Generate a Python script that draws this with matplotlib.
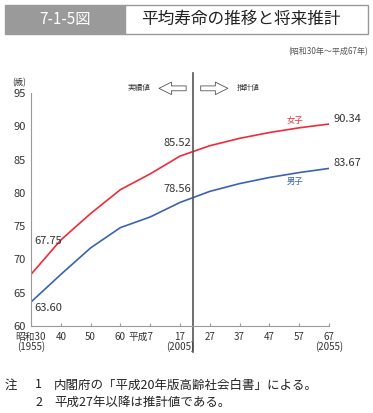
import matplotlib.pyplot as plt
import matplotlib.patches as patches
from matplotlib.transforms import blended_transform_factory

plt.rcParams['font.family'] = ['Noto Sans CJK JP', 'DejaVu Sans']

# ---------------------------------------------------------------------------
# Data
# ---------------------------------------------------------------------------
years = [1955, 1965, 1975, 1985, 1995, 2005, 2015, 2025, 2035, 2045, 2055]
female = [67.75, 72.92, 76.89, 80.48, 82.85, 85.52, 87.08, 88.19, 89.06, 89.77, 90.34]
male = [63.60, 67.74, 71.73, 74.78, 76.38, 78.56, 80.22, 81.39, 82.31, 83.05, 83.67]
tick_labels = ['昭和30', '40', '50', '60', '平成7', '17', '27', '37', '47', '57', '67']
west_labels = {1955: '(1955)', 2005: '(2005)', 2055: '(2055)'}
split_year = 2009.5

RED = '#ee2b3b'
BLUE = '#3a62b3'
GRAY = '#9a9a9a'
TXT = '#333333'

W, H = 373, 413
fig = plt.figure(figsize=(W / 100, H / 100), dpi=100)

def fx(px):
    return px / W

def fy(py):
    return 1 - py / H

# ---------------------------------------------------------------------------
# Header
# ---------------------------------------------------------------------------
fig.patches.append(patches.Rectangle((fx(5), fy(34)), fx(120), 29 / H,
                                     transform=fig.transFigure, facecolor=GRAY,
                                     edgecolor=GRAY, lw=1))
fig.patches.append(patches.Rectangle((fx(125), fy(34)), fx(243), 29 / H,
                                     transform=fig.transFigure, facecolor='white',
                                     edgecolor=GRAY, lw=1))
fig.text(fx(65), fy(19.5), '7-1-5図', color='white', fontsize=11,
         ha='center', va='center')
fig.text(fx(241), fy(19.5), '平均寿命の推移と将来推計', color='#222222',
         fontsize=12, ha='center', va='center')
fig.text(fx(368), fy(52), '(昭和30年～平成67年)', color='#555555', fontsize=5.8,
         ha='right', va='center')

# ---------------------------------------------------------------------------
# Chart
# ---------------------------------------------------------------------------
ax = fig.add_axes([fx(31), fy(326), fx(329 - 31), (326 - 93) / H])
ax.plot(years, female, color=RED, lw=1.2)
ax.plot(years, male, color=BLUE, lw=1.2)
ax.set_xlim(1955, 2055)
ax.set_ylim(60, 95)
ax.set_yticks(range(60, 96, 5))
ax.tick_params(axis='y', length=0, labelsize=8, labelcolor=TXT, pad=4)
ax.set_xticks(years)
ax.set_xticklabels([])
ax.tick_params(axis='x', direction='in', length=2.5, color=GRAY, width=0.8)
for s in ['top', 'right']:
    ax.spines[s].set_visible(False)
for s in ['left', 'bottom']:
    ax.spines[s].set_color(GRAY)
    ax.spines[s].set_linewidth(0.8)

trans = blended_transform_factory(ax.transData, ax.transAxes)
for yr, lab in zip(years, tick_labels):
    if lab == '平成7':
        ax.text(yr + 1.2, -0.048, lab, transform=trans, ha='right', va='center',
                fontsize=7, color=TXT)
    else:
        ax.text(yr, -0.048, lab, transform=trans, ha='center', va='center',
                fontsize=7, color=TXT)
for yr, lab in west_labels.items():
    ax.text(yr, -0.09, lab, transform=trans, ha='center', va='center',
            fontsize=7, color=TXT)

ax.text(-0.04, 1.045, '(歳)', transform=ax.transAxes, ha='center', va='center',
        fontsize=6, color=TXT)

# boundary between observed and projected values
ax.plot([split_year, split_year], [-0.112, 1.086], transform=trans,
        color='#555555', lw=1.2, clip_on=False)
arrow = dict(arrowstyle='simple,head_length=0.9,head_width=0.9,tail_width=0.35',
             fc='white', ec='#555555', lw=0.6)
ax.annotate('', xy=(split_year - 12.5, 1.02), xytext=(split_year - 1.5, 1.02),
            xycoords=trans, textcoords=trans, arrowprops=arrow)
ax.annotate('', xy=(split_year + 12.5, 1.02), xytext=(split_year + 1.5, 1.02),
            xycoords=trans, textcoords=trans, arrowprops=arrow)
ax.text(split_year - 14.5, 1.02, '実績値', transform=trans, ha='right',
        va='center', fontsize=5.5, color=TXT)
ax.text(split_year + 14.5, 1.02, '推計値', transform=trans, ha='left',
        va='center', fontsize=5.5, color=TXT)

# value labels
lab_kw = dict(fontsize=8, color=TXT)
ax.text(years[0] + 1, female[0] + 5.0, f'{female[0]:.2f}', ha='left', va='center', **lab_kw)
ax.text(years[0] + 1, male[0] - 0.9, f'{male[0]:.2f}', ha='left', va='center', **lab_kw)
ax.text(years[5] + 3.8, female[5] + 1.9, f'{female[5]:.2f}', ha='right', va='center', **lab_kw)
ax.text(years[5] + 3.8, male[5] + 1.95, f'{male[5]:.2f}', ha='right', va='center', **lab_kw)
ax.text(years[-1] + 1.5, female[-1], f'{female[-1]:.2f}', ha='left', va='bottom', **lab_kw)
ax.text(years[-1] + 1.5, male[-1], f'{male[-1]:.2f}', ha='left', va='bottom', **lab_kw)
ax.text(2043.5, 90.8, '女子', color=RED, fontsize=6, ha='center', va='center')
ax.text(2043.5, 81.7, '男子', color=BLUE, fontsize=6, ha='center', va='center')

# ---------------------------------------------------------------------------
# Notes
# ---------------------------------------------------------------------------
fig.text(fx(5), fy(385), '注', fontsize=9, color='#222222', va='center')
fig.text(fx(35), fy(385), '1', fontsize=9, color='#222222', va='center')
fig.text(fx(54), fy(385), '内閣府の「平成20年版高齢社会白書」による。', fontsize=9,
         color='#222222', va='center')
fig.text(fx(35), fy(402), '2', fontsize=9, color='#222222', va='center')
fig.text(fx(54), fy(402), '平成27年以降は推計値である。', fontsize=9,
         color='#222222', va='center')

fig.savefig('out.png', dpi=100, facecolor='white')
